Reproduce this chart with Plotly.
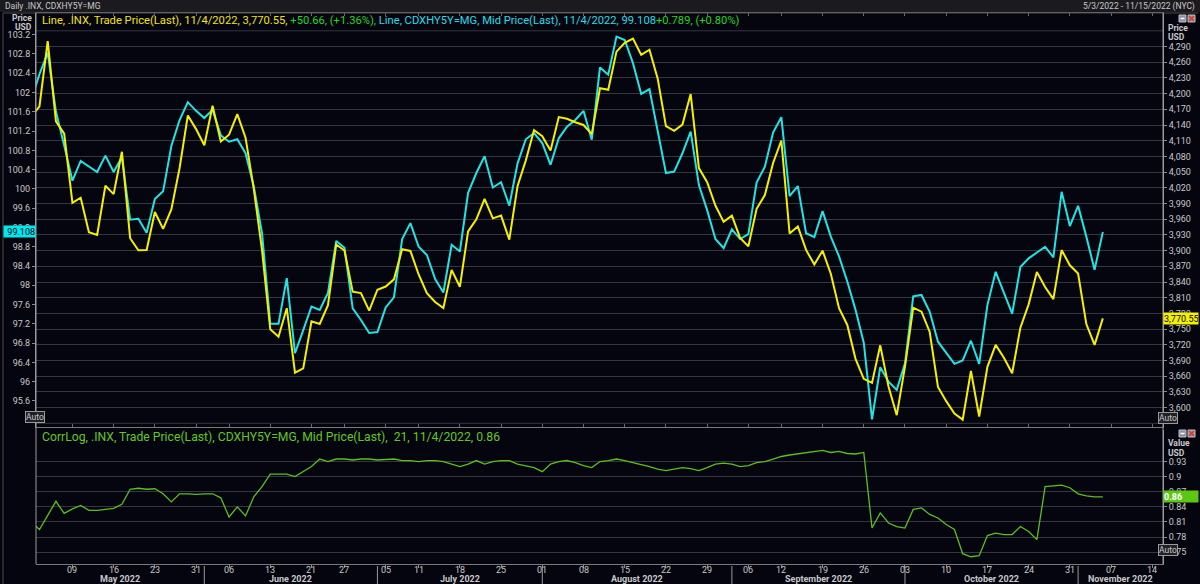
import plotly.graph_objects as go
import pandas as pd

# ---------------- data ----------------
HOLIDAYS = ["2022-05-30", "2022-06-20", "2022-07-04", "2022-09-05"]
ALL_DAYS = [d for d in pd.bdate_range("2022-05-02", "2022-11-15")
            if d.strftime("%Y-%m-%d") not in HOLIDAYS]

# S&P 500 (.INX) close, 2 May 2022 .. 4 Nov 2022 (right axis)
spx = [4155.38, 4175.48, 4300.17, 4146.87, 4123.34, 3991.24, 4001.05, 3935.18, 3930.08, 4023.89,
       4008.01, 4088.85, 3923.68, 3900.79, 3901.36, 3973.75, 3941.48, 3978.73, 4057.84, 4158.24,
       4132.15,
       4101.23, 4176.82, 4108.54, 4121.43, 4160.68, 4115.77, 4017.82, 3900.86, 3749.63, 3735.48,
       3789.99, 3666.77, 3674.84, 3764.79, 3759.89, 3795.73, 3911.74, 3900.11, 3821.55, 3818.83,
       3785.38,
       3825.33, 3831.39, 3845.08, 3902.62, 3899.38, 3854.43, 3818.80, 3801.78, 3790.38, 3863.16,
       3830.85, 3936.69, 3959.90, 3998.95, 3961.63, 3966.84, 3921.05, 4023.61, 4072.43, 4130.29,
       4118.63, 4091.19, 4155.17, 4151.94, 4145.19, 4140.06, 4122.47, 4210.24, 4207.27, 4280.15,
       4297.14, 4305.20, 4274.04, 4283.74, 4228.48, 4137.99, 4128.73, 4140.77, 4199.12, 4057.66,
       4030.61, 3986.16, 3955.00,
       3966.85, 3924.26, 3908.19, 3979.87, 4006.18, 4067.36, 4110.41, 3932.69, 3946.01, 3901.35,
       3873.33, 3899.89, 3855.93, 3789.93, 3757.99, 3693.23, 3655.04, 3647.29, 3719.04, 3640.47,
       3585.62,
       3678.43, 3790.93, 3783.28, 3744.52, 3639.66, 3612.39, 3588.84, 3577.03, 3669.91, 3583.07,
       3677.95, 3719.98, 3695.16, 3665.78, 3752.75, 3797.34, 3859.11, 3830.60, 3807.30, 3901.06,
       3871.98,
       3856.10, 3759.69, 3719.89, 3770.55]

# CDX HY 5Y mid price (left axis)
cdx = [101.85, 102.38, 102.83, 101.60, 100.90, 100.17, 100.58, 100.46, 100.35, 100.69,
       100.35, 100.66, 99.36, 99.38, 99.09, 99.79, 99.95, 100.89, 101.43, 101.80,
       101.62,
       101.47, 101.64, 101.11, 100.98, 101.03, 100.74, 100.05, 99.08, 97.20, 97.20,
       98.15, 96.59, 97.07, 97.56, 97.49, 97.84, 98.92, 98.78, 97.52, 97.28,
       97.01,
       97.03, 97.54, 97.75, 98.96, 99.29, 98.80, 98.63, 98.13, 97.85, 98.84,
       98.70, 99.92, 100.33, 100.68, 100.03, 100.14, 99.65, 100.53, 101.03, 101.16,
       100.95, 100.50, 101.05, 101.29, 101.43, 101.62, 101.02, 102.52, 102.37, 103.16,
       103.09, 102.61, 101.97, 102.07, 101.19, 100.33, 100.36, 100.74, 101.19, 100.08,
       99.56, 98.96, 98.77,
       99.16, 98.96, 99.06, 100.13, 100.46, 101.17, 101.49, 99.85, 100.06, 99.08,
       99.00, 99.54, 99.01, 98.60, 98.08, 97.49, 96.81, 95.22, 96.30, 96.00,
       95.83,
       96.38, 97.77, 97.80, 97.45, 96.83, 96.59, 96.37, 96.44, 96.85, 96.37,
       97.59, 98.28, 97.84, 97.41, 98.38, 98.56, 98.68, 98.80, 98.58, 99.94,
       99.23,
       99.65, 99.01, 98.32, 99.108]

# 21-day log-return correlation (lower panel)
corr = [0.81, 0.795, 0.823, 0.851, 0.827, 0.836, 0.843, 0.833, 0.833, 0.835,
        0.837, 0.845, 0.875, 0.877, 0.875, 0.876, 0.866, 0.850, 0.866, 0.866,
        0.865,
        0.866, 0.866, 0.858, 0.820, 0.840, 0.822, 0.860, 0.880, 0.905, 0.905,
        0.905, 0.900, 0.910, 0.920, 0.935, 0.930, 0.935, 0.935, 0.933, 0.935,
        0.935,
        0.933, 0.934, 0.935, 0.932, 0.932, 0.930, 0.932, 0.932, 0.930, 0.925,
        0.920, 0.925, 0.932, 0.925, 0.930, 0.932, 0.932, 0.925, 0.922, 0.918,
        0.910, 0.925, 0.930, 0.932, 0.928, 0.922, 0.918, 0.930, 0.932, 0.935,
        0.932, 0.928, 0.925, 0.920, 0.915, 0.912, 0.915, 0.918, 0.916, 0.912,
        0.918, 0.925, 0.927,
        0.925, 0.920, 0.922, 0.928, 0.930, 0.935, 0.940, 0.943, 0.945, 0.948,
        0.950, 0.952, 0.948, 0.950, 0.946, 0.945, 0.948, 0.798, 0.828, 0.808,
        0.801,
        0.798, 0.835, 0.838, 0.825, 0.818, 0.805, 0.795, 0.747, 0.741, 0.743,
        0.783, 0.788, 0.785, 0.785, 0.801, 0.791, 0.775, 0.880, 0.882, 0.883,
        0.878,
        0.866, 0.862, 0.860, 0.860]

LEFT_TICKS = [95.6 + 0.4 * k for k in range(20)]
RIGHT_TICKS = list(range(3600, 4291, 30))
RIGHT_GRID_EXTRA = [3570, 4320]
CORR_TICKS = [0.75, 0.78, 0.81, 0.84, 0.87, 0.90, 0.93]

# ---------------- geometry helpers ----------------
W, H = 1200, 584
def px(x): return x / W
def py(y): return 1 - y / H

XPOS = [i - 1 for i in range(len(ALL_DAYS))]       # 3 May 2022 -> 0
n = len(spx)
xd = XPOS[:n]
XRANGE = [-0.42, 136.3]

BG = "#05050f"
GRID = "#363640"
AXC = "#9a9a9a"
TXT = "#c8c8c8"
YEL = "#f5f000"
CYA = "#22e4e4"
GRN = "#5cbf1c"
FONT = "Roboto, Arial"

# weekly ticks (first trading day of each week) and months
tick_x, tick_t = [], []
prev = None
for i, d in enumerate(ALL_DAYS):
    wk = d.isocalendar()[1]
    if wk != prev:
        if prev is not None:
            tick_x.append(XPOS[i]); tick_t.append(d.strftime("%d"))
        prev = wk
month_x, month_lbl = [], []
prevm = None
for i, d in enumerate(ALL_DAYS):
    if d.month != prevm:
        if prevm is not None:
            month_x.append(XPOS[i])
        month_lbl.append(d.strftime("%B %Y"))
        prevm = d.month

fig = go.Figure()
fig.add_trace(go.Scatter(x=xd, y=cdx, mode="lines", line=dict(color=CYA, width=2),
                         yaxis="y", xaxis="x", showlegend=False))
fig.add_trace(go.Scatter(x=xd, y=spx, mode="lines", line=dict(color=YEL, width=2),
                         yaxis="y2", xaxis="x", showlegend=False))
fig.add_trace(go.Scatter(x=xd, y=corr, mode="lines", line=dict(color=GRN, width=1.3),
                         yaxis="y3", xaxis="x2", showlegend=False))

DOMX = [px(36), px(1163)]
TOP = [py(427), py(13)]
LOW = [py(564), py(430)]

def fmt_left(v):
    v = round(v, 1)
    return f"{int(v)}" if abs(v - int(v)) < 1e-9 else f"{v:g}"

fig.update_layout(
    width=W, height=H, margin=dict(l=0, r=0, t=0, b=0),
    paper_bgcolor=BG, plot_bgcolor=BG,
    font=dict(family=FONT, size=9, color=TXT),
    xaxis=dict(domain=DOMX, range=XRANGE, anchor="y", showticklabels=False,
               tickvals=tick_x, ticks="inside", ticklen=3, tickcolor="#6a6a6a",
               showgrid=False, zeroline=False, showline=True, linecolor="#7a7a7a",
               mirror="ticks"),
    xaxis2=dict(domain=DOMX, range=XRANGE, anchor="y3", tickvals=tick_x, showticklabels=False,
                ticks="outside", ticklen=3, tickcolor="#8a8a8a",
                showgrid=False, zeroline=False, showline=True, linecolor="#7a7a7a"),
    yaxis=dict(domain=TOP, range=[95.06, 103.65], side="left", anchor="x",
               tickvals=LEFT_TICKS, ticktext=[fmt_left(v) for v in LEFT_TICKS],
               ticks="outside", ticklen=3, tickcolor="#8a8a8a",
               tickfont=dict(size=9, color=TXT, family=FONT),
               showgrid=False, zeroline=False, showline=True, linecolor=AXC),
    yaxis2=dict(range=[3563, 4354], side="right", overlaying="y", anchor="x",
                tickvals=RIGHT_TICKS, ticktext=[f"{v:,}" for v in RIGHT_TICKS],
                ticks="outside", ticklen=3, tickcolor="#8a8a8a",
                tickfont=dict(size=9, color=TXT, family=FONT),
                showgrid=True, gridcolor=GRID, gridwidth=1, zeroline=False,
                showline=True, linecolor=AXC),
    yaxis3=dict(domain=LOW, range=[0.7266, 0.9926], side="right", anchor="x2",
                tickvals=CORR_TICKS, ticktext=[f"{v:g}" for v in CORR_TICKS],
                ticks="outside", ticklen=3, tickcolor="#8a8a8a",
                tickfont=dict(size=9, color=TXT, family=FONT),
                showgrid=True, gridcolor=GRID, gridwidth=1, zeroline=False,
                showline=True, linecolor=AXC),
)

shapes = []
# extra gridlines without labels
for g in RIGHT_GRID_EXTRA:
    shapes.append(dict(type="line", xref="paper", yref="y2", x0=DOMX[0], x1=DOMX[1], y0=g, y1=g,
                       line=dict(color=GRID, width=1), layer="below"))
# top strip
shapes.append(dict(type="rect", xref="paper", yref="paper", x0=0, x1=1, y0=py(12), y1=1,
                   fillcolor="#1b1b1f", line=dict(width=0), layer="below"))
shapes.append(dict(type="line", xref="paper", yref="paper", x0=px(3), x1=px(3), y0=0, y1=py(13),
                   line=dict(color="#4a4a4a", width=1)))
shapes.append(dict(type="line", xref="paper", yref="paper", x0=px(3), x1=px(1198), y0=py(13), y1=py(13),
                   line=dict(color="#4a4a4a", width=1)))
# full height vertical axis lines
shapes.append(dict(type="line", xref="paper", yref="paper", x0=px(36), x1=px(36), y0=py(564), y1=py(13),
                   line=dict(color=AXC, width=1)))
shapes.append(dict(type="line", xref="paper", yref="paper", x0=px(1163), x1=px(1163), y0=py(564), y1=py(13),
                   line=dict(color=AXC, width=1)))
# month separators
for mx in month_x:
    shapes.append(dict(type="line", xref="x2", yref="paper", x0=mx, x1=mx, y0=0, y1=py(566),
                       line=dict(color="#9a9a9a", width=1)))
# window icons (minimise / close)
for yy in (15, 430):
    shapes.append(dict(type="rect", xref="paper", yref="paper", x0=px(1179), x1=px(1186),
                       y0=py(yy + 7), y1=py(yy), fillcolor="#8a8fa8", line=dict(color="#c0c0c0", width=1)))
    shapes.append(dict(type="line", xref="paper", yref="paper", x0=px(1180.5), x1=px(1184.5),
                       y0=py(yy + 3.5), y1=py(yy + 3.5), line=dict(color="#ffffff", width=1.5)))
    shapes.append(dict(type="rect", xref="paper", yref="paper", x0=px(1188), x1=px(1195),
                       y0=py(yy + 7), y1=py(yy), fillcolor="#a08a8a", line=dict(color="#c0c0c0", width=1)))
    shapes.append(dict(type="line", xref="paper", yref="paper", x0=px(1189), x1=px(1194),
                       y0=py(yy + 6), y1=py(yy + 1), line=dict(color="#e03030", width=1.2)))
    shapes.append(dict(type="line", xref="paper", yref="paper", x0=px(1189), x1=px(1194),
                       y0=py(yy + 1), y1=py(yy + 6), line=dict(color="#e03030", width=1.2)))
fig.update_layout(shapes=shapes)

ann = []
# date tick labels
for tx, tt in zip(tick_x, tick_t):
    ann.append(dict(x=tx, xref="x2", y=py(570), yref="paper", text=tt, showarrow=False,
                    yanchor="middle", font=dict(size=9, color=TXT, family=FONT)))
# month labels
edges = [XRANGE[0]] + month_x + [XRANGE[1]]
for k, lbl in enumerate(month_lbl):
    c = (edges[k] + edges[k + 1]) / 2
    ann.append(dict(x=c, xref="x2", y=py(579), yref="paper", text=f"<b>{lbl}</b>",
                    yanchor="middle", showarrow=False, font=dict(size=9, color=TXT, family=FONT)))
# headers
hdr = ("<span style='color:#f2e40a'>Line, .INX, Trade Price(Last), 11/4/2022, 3,770.55, </span>"
       "<span style='color:#22d822'>+50.66, (+1.36%), </span>"
       "<span style='color:#22dde6'>Line, CDXHY5Y=MG, Mid Price(Last), 11/4/2022, 99.108</span>"
       "<span style='color:#22d822'>+0.789, (+0.80%)</span>")
ann.append(dict(x=px(40), y=py(21), xref="paper", yref="paper", xanchor="left", yanchor="middle",
                text=hdr, showarrow=False, font=dict(size=11.2, family=FONT)))
ann.append(dict(x=px(40), y=py(437), xref="paper", yref="paper", xanchor="left", yanchor="middle",
                text="CorrLog, .INX, Trade Price(Last), CDXHY5Y=MG, Mid Price(Last),\u00a0 21, 11/4/2022, 0.86",
                showarrow=False, font=dict(size=12.2, color="#62c81e", family=FONT)))
ann.append(dict(x=px(3), y=py(6), xref="paper", yref="paper", xanchor="left", yanchor="middle",
                text="Daily .INX, CDXHY5Y=MG", showarrow=False, font=dict(size=8.5, color=TXT, family=FONT)))
ann.append(dict(x=px(1197), y=py(6), xref="paper", yref="paper", xanchor="right", yanchor="middle",
                text="5/3/2022 - 11/15/2022 (NYC)", showarrow=False, font=dict(size=8.5, color=TXT, family=FONT)))
# unit labels
for (xx, yy, t, anc) in [(34, 18, "<b>Price</b>", "right"), (34, 27, "<b>USD</b>", "right"),
                         (1166, 28, "<b>Price</b>", "left"), (1166, 37.5, "<b>USD</b>", "left"),
                         (1166, 443, "<b>Value</b>", "left"), (1166, 452.5, "<b>USD</b>", "left")]:
    ann.append(dict(x=px(xx), y=py(yy), xref="paper", yref="paper", xanchor=anc, yanchor="middle",
                    text=t, showarrow=False, font=dict(size=8.5, color=TXT, family=FONT)))
# Auto boxes
for (xx, yy) in [(25, 423), (1178, 424), (1178, 556)]:
    ann.append(dict(x=px(xx), y=py(yy), xref="paper", yref="paper", text="Auto", showarrow=False,
                    font=dict(size=8.5, color=TXT, family=FONT), bordercolor="#9a9a9a", borderwidth=1,
                    borderpad=0, bgcolor="#202028"))
# last value boxes
ann.append(dict(x=px(36), y=cdx[-1], xref="paper", yref="y", xanchor="right", yanchor="middle",
                text="99.108", showarrow=False, bgcolor="#00e8f0", borderpad=0, align="right",
                font=dict(size=9, color="#000000", family=FONT), width=31, height=11))
ann.append(dict(x=px(1163), y=spx[-1], xref="paper", yref="y2", xanchor="left", yanchor="middle",
                text="3,770.55", showarrow=False, bgcolor="#f5f000", borderpad=0, align="left",
                font=dict(size=9, color="#000000", family=FONT), width=34, height=11))
ann.append(dict(x=px(1163), y=corr[-1], xref="paper", yref="y3", xanchor="left", yanchor="middle",
                text="<b>0.86</b>", showarrow=False, bgcolor="#5cc814", borderpad=0, align="left",
                font=dict(size=9, color="#ffffff", family=FONT), width=34, height=11))
fig.update_layout(annotations=ann)

fig.write_html("out.html")
